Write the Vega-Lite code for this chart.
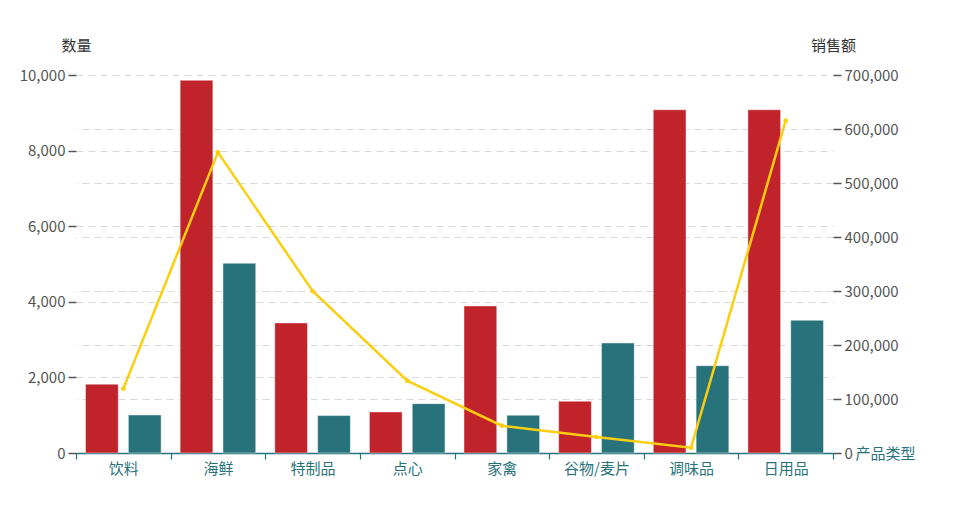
{
  "$schema": "https://vega.github.io/schema/vega-lite/v6.json",
  "autosize": {"type": "none"},
  "padding": {"left": 76, "top": 75, "right": 123, "bottom": 70},
  "width": 757,
  "height": 378,
  "config": {
    "font": "Noto Sans CJK SC",
    "view": {"stroke": null}
  },
  "datasets": {
    "bars": [
      {"产品类型": "饮料", "系列": "销量", "数量": 1820},
      {"产品类型": "饮料", "系列": "库存", "数量": 1005},
      {"产品类型": "海鲜", "系列": "销量", "数量": 9860},
      {"产品类型": "海鲜", "系列": "库存", "数量": 5020},
      {"产品类型": "特制品", "系列": "销量", "数量": 3440},
      {"产品类型": "特制品", "系列": "库存", "数量": 990},
      {"产品类型": "点心", "系列": "销量", "数量": 1085},
      {"产品类型": "点心", "系列": "库存", "数量": 1305},
      {"产品类型": "家禽", "系列": "销量", "数量": 3890},
      {"产品类型": "家禽", "系列": "库存", "数量": 1000},
      {"产品类型": "谷物/麦片", "系列": "销量", "数量": 1370},
      {"产品类型": "谷物/麦片", "系列": "库存", "数量": 2910},
      {"产品类型": "调味品", "系列": "销量", "数量": 9080},
      {"产品类型": "调味品", "系列": "库存", "数量": 2310},
      {"产品类型": "日用品", "系列": "销量", "数量": 9080},
      {"产品类型": "日用品", "系列": "库存", "数量": 3510}
    ],
    "line": [
      {"产品类型": "饮料", "销售额": 119000},
      {"产品类型": "海鲜", "销售额": 556800},
      {"产品类型": "特制品", "销售额": 300000},
      {"产品类型": "点心", "销售额": 133900},
      {"产品类型": "家禽", "销售额": 50600},
      {"产品类型": "谷物/麦片", "销售额": 29600},
      {"产品类型": "调味品", "销售额": 9800},
      {"产品类型": "日用品", "销售额": 615400}
    ]
  },
  "layer": [
    {
      "data": {"name": "bars"},
      "mark": {"type": "bar", "stroke": "#ffffff", "strokeWidth": 1, "strokeOpacity": 0.45},
      "encoding": {
        "x": {
          "field": "产品类型",
          "type": "nominal",
          "sort": null,
          "scale": {"paddingInner": 0, "paddingOuter": 0},
          "axis": {
            "title": "产品类型",
            "titleX": 779,
            "titleY": 0,
            "titleAlign": "left",
            "titleBaseline": "middle",
            "titleFontSize": 15,
            "titleFontWeight": "normal",
            "titleColor": "#27727B",
            "labelAngle": 0,
            "labelFontSize": 15,
            "labelColor": "#27727B",
            "labelPadding": 2,
            "domainColor": "#27727B",
            "domainWidth": 1.5,
            "tickColor": "#27727B",
            "tickWidth": 1.2,
            "tickSize": 6,
            "tickBand": "extent",
            "grid": false
          }
        },
        "xOffset": {
          "field": "系列",
          "type": "nominal",
          "sort": ["销量", "库存"],
          "scale": {"domain": ["销量", "库存"], "paddingInner": 0.236, "paddingOuter": 0.222}
        },
        "y": {
          "field": "数量",
          "type": "quantitative",
          "scale": {"domain": [0, 10000], "nice": false},
          "axis": {
            "title": "数量",
            "titleAngle": 0,
            "titleX": 0,
            "titleY": -30,
            "titleAlign": "center",
            "titleBaseline": "middle",
            "titleFontSize": 15,
            "titleFontWeight": "normal",
            "titleColor": "#333333",
            "values": [0, 2000, 4000, 6000, 8000, 10000],
            "format": ",.0f",
            "labelFontSize": 15,
            "labelColor": "#555555",
            "labelPadding": 3,
            "tickColor": "#555555",
            "tickSize": 8,
            "tickWidth": 1.5,
            "domain": false,
            "grid": true,
            "gridColor": "#d9d9d9",
            "gridDash": [7, 5],
            "gridWidth": 1.2
          }
        },
        "color": {
          "field": "系列",
          "type": "nominal",
          "scale": {"domain": ["销量", "库存"], "range": ["#C1232B", "#27727B"]},
          "legend": null
        }
      }
    },
    {
      "data": {"name": "line"},
      "mark": {
        "type": "line",
        "color": "#FCCE10",
        "strokeWidth": 2.5,
        "point": {"filled": true, "size": 22, "color": "#FCCE10"}
      },
      "encoding": {
        "x": {"field": "产品类型", "type": "nominal", "sort": null},
        "y": {
          "field": "销售额",
          "type": "quantitative",
          "scale": {"domain": [0, 700000], "nice": false},
          "axis": {
            "orient": "right",
            "title": "销售额",
            "titleAngle": 0,
            "titleX": 0,
            "titleY": -30,
            "titleAlign": "center",
            "titleBaseline": "middle",
            "titleFontSize": 15,
            "titleFontWeight": "normal",
            "titleColor": "#333333",
            "values": [0, 100000, 200000, 300000, 400000, 500000, 600000, 700000],
            "format": ",.0f",
            "labelFontSize": 15,
            "labelColor": "#555555",
            "labelPadding": 3,
            "tickColor": "#555555",
            "tickSize": 8,
            "tickWidth": 1.5,
            "domain": false,
            "grid": true,
            "gridColor": "#d9d9d9",
            "gridDash": [7, 5],
            "gridWidth": 1.2,
            "gridOpacity": {"condition": {"test": "datum.value === 700000 || datum.value === 0", "value": 0}, "value": 1}
          }
        }
      }
    }
  ],
  "resolve": {"scale": {"y": "independent"}}
}
